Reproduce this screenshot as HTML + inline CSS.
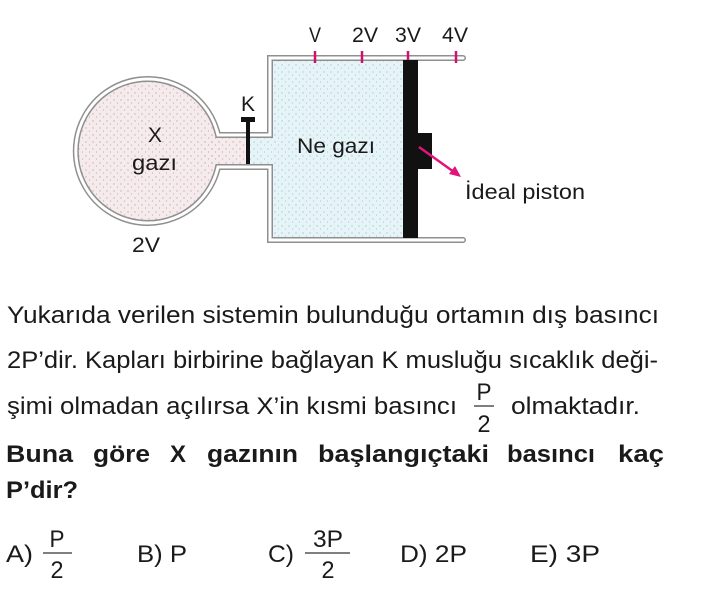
<!DOCTYPE html>
<html><head><meta charset="utf-8"><style>
html,body{margin:0;padding:0;background:#fff;}
svg{display:block;}
text{font-family:"Liberation Sans",sans-serif;fill:#1a1a1a;}
</style></head><body>
<svg width="706" height="594" viewBox="0 0 706 594" xmlns="http://www.w3.org/2000/svg">
<defs>
<pattern id="dp" width="7" height="7" patternUnits="userSpaceOnUse"><circle cx="2" cy="2" r="0.7" fill="#c9aab0"/><circle cx="5.5" cy="5" r="0.6" fill="#c9aab0"/></pattern>
<pattern id="db" width="7" height="7" patternUnits="userSpaceOnUse"><circle cx="2" cy="2" r="0.7" fill="#9fcbd6"/><circle cx="5.5" cy="5" r="0.6" fill="#9fcbd6"/></pattern>
</defs>
<path d="M403,58 L270,58 L270,135 L218,135 A72,72 0 1,0 218,167 L270,167 L270,240 L403,240 Z" fill="#e7f4f7"/>
<path d="M403,58 L270,58 L270,135 L218,135 A72,72 0 1,0 218,167 L270,167 L270,240 L403,240 Z" fill="url(#db)"/>
<circle cx="148" cy="151" r="72" fill="#f5ebed"/>
<rect x="205" y="135" width="42" height="32" fill="#f5ebed"/>
<circle cx="148" cy="151" r="72" fill="url(#dp)"/>
<rect x="205" y="135" width="42" height="32" fill="url(#dp)"/>
<path d="M463,58 L270,58 L270,135 L218,135 A72,72 0 1,0 218,167 L270,167 L270,240 L463,240" fill="none" stroke="#8f8f8f" stroke-width="6" stroke-linecap="round"/>
<path d="M463,58 L270,58 L270,135 L218,135 A72,72 0 1,0 218,167 L270,167 L270,240 L463,240" fill="none" stroke="#fff" stroke-width="3" stroke-linecap="round"/>
<g stroke="#d0106e" stroke-width="2.5">
<line x1="315" y1="51" x2="315" y2="63"/><line x1="362" y1="51" x2="362" y2="63"/>
<line x1="408" y1="51" x2="408" y2="63"/><line x1="456" y1="51" x2="456" y2="63"/>
</g>
<rect x="403" y="60" width="15" height="178" fill="#111"/>
<rect x="417" y="133" width="15" height="36" fill="#111"/>
<rect x="246" y="118" width="4" height="46" fill="#111"/>
<rect x="241" y="117" width="14" height="5" fill="#111"/>
<line x1="419" y1="147" x2="454" y2="172" stroke="#e0157a" stroke-width="2.5"/>
<polygon points="461,177 449,174 455,166" fill="#e0157a"/>
<g font-size="21">
<text x="315" y="42" text-anchor="middle" textLength="12" lengthAdjust="spacingAndGlyphs">V</text>
<text x="365" y="42" text-anchor="middle" textLength="26" lengthAdjust="spacingAndGlyphs">2V</text>
<text x="408" y="42" text-anchor="middle" textLength="26" lengthAdjust="spacingAndGlyphs">3V</text>
<text x="455" y="42" text-anchor="middle" textLength="26" lengthAdjust="spacingAndGlyphs">4V</text>
<text x="248" y="111" text-anchor="middle">K</text>
<text x="155" y="142" text-anchor="middle">X</text>
<text x="132" y="170" textLength="45" lengthAdjust="spacingAndGlyphs">gazı</text>
<text x="297" y="153" textLength="78" lengthAdjust="spacingAndGlyphs">Ne gazı</text>
<text x="132" y="252" textLength="28" lengthAdjust="spacingAndGlyphs">2V</text>
<text x="465" y="199" textLength="120" lengthAdjust="spacingAndGlyphs">İdeal piston</text>
</g>
<g font-size="24">
<text x="7" y="323" textLength="652" lengthAdjust="spacingAndGlyphs">Yukarıda verilen sistemin bulunduğu ortamın dış basıncı</text>
<text x="7" y="368" textLength="651" lengthAdjust="spacingAndGlyphs">2P’dir. Kapları birbirine bağlayan K musluğu sıcaklık deği-</text>
<text x="7" y="414" textLength="450" lengthAdjust="spacingAndGlyphs">şimi olmadan açılırsa X’in kısmi basıncı</text>
<text x="484" y="400" text-anchor="middle" textLength="15" lengthAdjust="spacingAndGlyphs">P</text>
<line x1="474" y1="406" x2="494" y2="406" stroke="#333" stroke-width="1.2"/>
<text x="484" y="432" text-anchor="middle" textLength="13" lengthAdjust="spacingAndGlyphs">2</text>
<text x="511" y="414" textLength="129" lengthAdjust="spacingAndGlyphs">olmaktadır.</text>
</g>
<g font-size="24" font-weight="bold">
<text x="6" y="462" textLength="67" lengthAdjust="spacingAndGlyphs">Buna</text>
<text x="93" y="462" textLength="57" lengthAdjust="spacingAndGlyphs">göre</text>
<text x="170" y="462" textLength="16" lengthAdjust="spacingAndGlyphs">X</text>
<text x="207" y="462" textLength="91" lengthAdjust="spacingAndGlyphs">gazının</text>
<text x="318" y="462" textLength="171" lengthAdjust="spacingAndGlyphs">başlangıçtaki</text>
<text x="507" y="462" textLength="88" lengthAdjust="spacingAndGlyphs">basıncı</text>
<text x="618" y="462" textLength="46" lengthAdjust="spacingAndGlyphs">kaç</text>
<text x="6" y="498" textLength="72" lengthAdjust="spacingAndGlyphs">P’dir?</text>
</g>
<g font-size="24">
<text x="6" y="562" textLength="27" lengthAdjust="spacingAndGlyphs">A)</text>
<text x="57" y="547" text-anchor="middle" textLength="15" lengthAdjust="spacingAndGlyphs">P</text>
<line x1="43" y1="553" x2="72" y2="553" stroke="#333" stroke-width="1.2"/>
<text x="57" y="578" text-anchor="middle" textLength="13" lengthAdjust="spacingAndGlyphs">2</text>
<text x="137" y="562" textLength="50" lengthAdjust="spacingAndGlyphs">B) P</text>
<text x="268" y="562" textLength="26" lengthAdjust="spacingAndGlyphs">C)</text>
<text x="328" y="547" text-anchor="middle" textLength="30" lengthAdjust="spacingAndGlyphs">3P</text>
<line x1="305" y1="553" x2="350" y2="553" stroke="#333" stroke-width="1.2"/>
<text x="328" y="578" text-anchor="middle" textLength="13" lengthAdjust="spacingAndGlyphs">2</text>
<text x="400" y="562" textLength="67" lengthAdjust="spacingAndGlyphs">D) 2P</text>
<text x="530" y="562" textLength="70" lengthAdjust="spacingAndGlyphs">E) 3P</text>
</g>
</svg>
</body></html>
